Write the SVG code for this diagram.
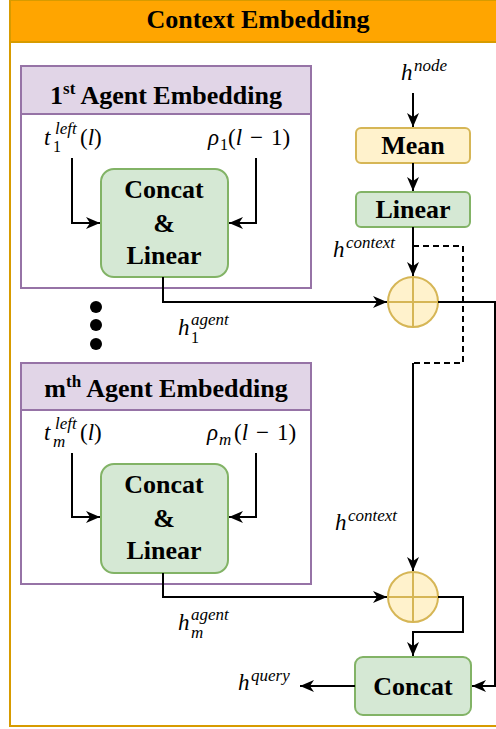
<svg xmlns="http://www.w3.org/2000/svg" width="496" height="729" viewBox="0 0 496 729" font-family="Liberation Serif">
<style>
.ln{fill:none;stroke:#000;stroke-width:2}
.green{fill:#D5E8D4;stroke:#82B366;stroke-width:2}
.yellow{fill:#FFF2CC;stroke:#D6B656;stroke-width:2}
.ph{fill:#E1D5E7;stroke:#9673A6;stroke-width:2}
.pb{fill:#FFFFFF;stroke:#9673A6;stroke-width:2}
</style>
<defs>
<marker id="arr" markerUnits="userSpaceOnUse" markerWidth="16" markerHeight="16" viewBox="0 0 16 16" refX="14" refY="8" orient="auto">
<path d="M0 2 L14 8 L0 14 L4 8 Z" fill="#000"/>
</marker>
</defs>
<g id="container">
<rect x="10" y="0" width="510" height="726" fill="#FFFFFF" stroke="#D79B00" stroke-width="2"/>
<rect x="10" y="0" width="510" height="42" fill="#FFA500" stroke="#D79B00" stroke-width="2"/>
<text x="258" y="28" text-anchor="middle" style="font-family:'Liberation Serif',serif !important;font-size:26px;font-weight:bold">Context Embedding</text>
</g>
<g id="agent1">
<rect class="pb" x="21" y="114" width="290" height="174"/>
<rect class="ph" x="21" y="66" width="290" height="48"/>
<text x="166" y="104" text-anchor="middle" style="font-family:'Liberation Serif',serif !important;font-size:26px;font-weight:bold">1<tspan font-size="17" dy="-10">st</tspan><tspan dy="10"> Agent Embedding</tspan></text>
</g>
<g id="concat-linear1" text-anchor="middle">
<rect class="green" x="101" y="169" width="127" height="108" rx="13"/>
<text x="164" y="198" style="font-family:'Liberation Serif',serif !important;font-size:26px;font-weight:bold">Concat</text>
<text x="164" y="232" style="font-family:'Liberation Serif',serif !important;font-size:26px;font-weight:bold">&amp;</text>
<text x="164" y="264" style="font-family:'Liberation Serif',serif !important;font-size:26px;font-weight:bold">Linear</text>
</g>
<g id="agentm">
<rect class="pb" x="21" y="410" width="290" height="174"/>
<rect class="ph" x="21" y="363" width="290" height="47"/>
<text x="166" y="397" text-anchor="middle" style="font-family:'Liberation Serif',serif !important;font-size:26px;font-weight:bold">m<tspan font-size="17" dy="-10">th</tspan><tspan dy="10"> Agent Embedding</tspan></text>
</g>
<g id="concat-linear2" text-anchor="middle">
<rect class="green" x="101" y="464" width="127" height="109" rx="13"/>
<text x="164" y="493" style="font-family:'Liberation Serif',serif !important;font-size:26px;font-weight:bold">Concat</text>
<text x="164" y="527" style="font-family:'Liberation Serif',serif !important;font-size:26px;font-weight:bold">&amp;</text>
<text x="164" y="559" style="font-family:'Liberation Serif',serif !important;font-size:26px;font-weight:bold">Linear</text>
</g>
<g id="dots">
<circle cx="96" cy="307" r="6" fill="#000"/>
<circle cx="96" cy="325" r="6" fill="#000"/>
<circle cx="96" cy="344" r="6" fill="#000"/>
</g>
<g id="mean">
<rect class="yellow" x="356" y="128" width="114" height="35" rx="5"/>
<text x="413" y="154" text-anchor="middle" style="font-family:'Liberation Serif',serif !important;font-size:26px;font-weight:bold">Mean</text>
</g>
<g id="linear">
<rect class="green" x="356" y="192" width="114" height="35" rx="5"/>
<text x="413" y="218" text-anchor="middle" style="font-family:'Liberation Serif',serif !important;font-size:26px;font-weight:bold">Linear</text>
</g>
<g id="sum1">
<circle class="yellow" cx="413" cy="302" r="25"/>
<path d="M388 302 H438 M413 277 V327" stroke="#D6B656" stroke-width="2"/>
</g>
<g id="sum2">
<circle class="yellow" cx="413" cy="597" r="25"/>
<path d="M388 597 H438 M413 572 V622" stroke="#D6B656" stroke-width="2"/>
</g>
<g id="concat">
<rect class="green" x="355" y="657" width="116" height="58" rx="8"/>
<text x="413" y="695" text-anchor="middle" style="font-family:'Liberation Serif',serif !important;font-size:26px;font-weight:bold">Concat</text>
</g>
<g id="connectors">
<path class="ln" d="M72 158 V223 H100" marker-end="url(#arr)"/>
<path class="ln" d="M256 158 V223 H229" marker-end="url(#arr)"/>
<path class="ln" d="M163 277 V302 H387" marker-end="url(#arr)"/>
<path class="ln" d="M72 453 V517 H100" marker-end="url(#arr)"/>
<path class="ln" d="M256 453 V517 H229" marker-end="url(#arr)"/>
<path class="ln" d="M163 573 V597 H387" marker-end="url(#arr)"/>
<path class="ln" d="M413 93 V127" marker-end="url(#arr)"/>
<path class="ln" d="M413 163 V191" marker-end="url(#arr)"/>
<path class="ln" d="M413 227 V276" marker-end="url(#arr)"/>
<path class="ln" d="M413 246 H463 V363 H413" stroke-dasharray="6 4"/>
<path class="ln" d="M413 363 V571" marker-end="url(#arr)"/>
<path class="ln" d="M438 302 H495 V686 H472" marker-end="url(#arr)"/>
<path class="ln" d="M438 597 H463 V632 H413 V656" marker-end="url(#arr)"/>
<path class="ln" d="M355 686 H300" marker-end="url(#arr)"/>
</g>
<g id="labels">
<text x="401" y="80" style="font-family:'Liberation Serif',serif !important;font-size:23px;font-style:italic">h</text><text x="414" y="71" style="font-family:'Liberation Serif',serif !important;font-size:17px;font-style:italic">node</text>
<text x="44" y="145" style="font-family:'Liberation Serif',serif !important;font-size:23px;font-style:italic">t</text><text x="55" y="134" style="font-family:'Liberation Serif',serif !important;font-size:17px;font-style:italic">left</text><text x="53" y="152" style="font-family:'Liberation Serif',serif !important;font-size:16px">1</text><text x="80" y="145" style="font-family:'Liberation Serif',serif !important;font-size:23px">(<tspan font-style="italic">l</tspan>)</text>
<text x="208" y="145" style="font-family:'Liberation Serif',serif !important;font-size:23px;font-style:italic">ρ</text><text x="220" y="150" style="font-family:'Liberation Serif',serif !important;font-size:16px">1</text><text x="228" y="145" style="font-family:'Liberation Serif',serif !important;font-size:23px">(<tspan font-style="italic">l</tspan></text><text x="250" y="145" style="font-family:'Liberation Serif',serif !important;font-size:23px">−</text><text x="271" y="145" style="font-family:'Liberation Serif',serif !important;font-size:23px">1)</text>
<text x="44" y="440" style="font-family:'Liberation Serif',serif !important;font-size:23px;font-style:italic">t</text><text x="55" y="429" style="font-family:'Liberation Serif',serif !important;font-size:17px;font-style:italic">left</text><text x="53" y="447" style="font-family:'Liberation Serif',serif !important;font-size:17px;font-style:italic">m</text><text x="80" y="440" style="font-family:'Liberation Serif',serif !important;font-size:23px">(<tspan font-style="italic">l</tspan>)</text>
<text x="207" y="440" style="font-family:'Liberation Serif',serif !important;font-size:23px;font-style:italic">ρ</text><text x="219" y="445" style="font-family:'Liberation Serif',serif !important;font-size:17px;font-style:italic">m</text><text x="234" y="440" style="font-family:'Liberation Serif',serif !important;font-size:23px">(<tspan font-style="italic">l</tspan></text><text x="256" y="440" style="font-family:'Liberation Serif',serif !important;font-size:23px">−</text><text x="277" y="440" style="font-family:'Liberation Serif',serif !important;font-size:23px">1)</text>
<text x="178" y="335" style="font-family:'Liberation Serif',serif !important;font-size:23px;font-style:italic">h</text><text x="191" y="325" style="font-family:'Liberation Serif',serif !important;font-size:17px;font-style:italic">agent</text><text x="191" y="343" style="font-family:'Liberation Serif',serif !important;font-size:16px">1</text>
<text x="178" y="630" style="font-family:'Liberation Serif',serif !important;font-size:23px;font-style:italic">h</text><text x="191" y="620" style="font-family:'Liberation Serif',serif !important;font-size:17px;font-style:italic">agent</text><text x="191" y="638" style="font-family:'Liberation Serif',serif !important;font-size:17px;font-style:italic">m</text>
<text x="333" y="257" style="font-family:'Liberation Serif',serif !important;font-size:23px;font-style:italic">h</text><text x="346" y="248" style="font-family:'Liberation Serif',serif !important;font-size:17px;font-style:italic">context</text>
<text x="335" y="530" style="font-family:'Liberation Serif',serif !important;font-size:23px;font-style:italic">h</text><text x="348" y="521" style="font-family:'Liberation Serif',serif !important;font-size:17px;font-style:italic">context</text>
<text x="238" y="690" style="font-family:'Liberation Serif',serif !important;font-size:23px;font-style:italic">h</text><text x="251" y="681" style="font-family:'Liberation Serif',serif !important;font-size:17px;font-style:italic">query</text>
</g>
</svg>
